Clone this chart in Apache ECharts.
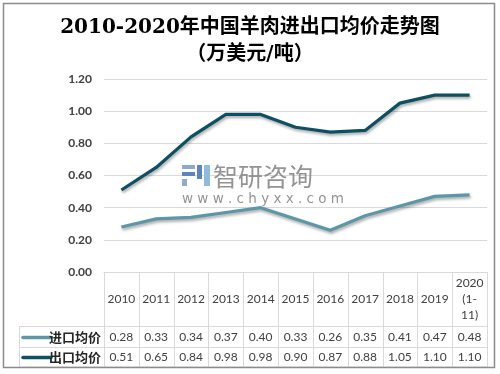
<!DOCTYPE html>
<html><head><meta charset="utf-8">
<script src="https://cdn.jsdelivr.net/npm/echarts@6/dist/echarts.min.js"></script>
<style>html,body{margin:0;padding:0;background:#fff}#c{width:500px;height:374px}</style>
</head><body><div id="c"></div>
<script>
var years = ['2010','2011','2012','2013','2014','2015','2016','2017','2018','2019','2020\n(1-\n11)'];
var importPrice = [0.28,0.33,0.34,0.37,0.40,0.33,0.26,0.35,0.41,0.47,0.48];
var exportPrice = [0.51,0.65,0.84,0.98,0.98,0.90,0.87,0.88,1.05,1.10,1.10];
var seriesNames = ['进口均价','出口均价'];
var seriesColors = ['#5C97A7','#0E4F64'];
var yTicks = [0,0.2,0.4,0.6,0.8,1.0,1.2];

var chart = echarts.init(document.getElementById('c'));
var font = 'Lato, "Noto Sans CJK SC", sans-serif';
var gridL = 104, gridR = 13, gridT = 79, gridB = 102;
var shadow = {shadowColor:'rgba(0,0,0,0.35)', shadowBlur:3, shadowOffsetX:1, shadowOffsetY:2};
chart.setOption({
  animation:false,
  backgroundColor:'#fff',
  grid:{left:gridL,right:gridR,top:gridT,bottom:gridB,containLabel:false},
  xAxis:{type:'category',data:years,boundaryGap:true,
    axisLine:{show:true,lineStyle:{color:'#D9D9D9'}},axisTick:{show:false},axisLabel:{show:false},splitLine:{show:false}},
  yAxis:{type:'value',min:yTicks[0],max:yTicks[yTicks.length-1],interval:0.2,
    axisLine:{show:false},axisTick:{show:false},
    axisLabel:{formatter:function(v){return v.toFixed(2);},color:'#404040',fontSize:12,fontWeight:'bold',fontFamily:font,margin:12},
    splitLine:{lineStyle:{color:'#D9D9D9'}}},
  series:[
    {name:seriesNames[0],type:'line',data:importPrice,symbol:'none',smooth:false,
      lineStyle:Object.assign({color:seriesColors[0],width:3.2},shadow)},
    {name:seriesNames[1],type:'line',data:exportPrice,symbol:'none',smooth:false,
      lineStyle:Object.assign({color:seriesColors[1],width:3.2},shadow)}
  ]
});

var g = [];
var lineC = '#D9D9D9';
var x0 = chart.convertToPixel({xAxisIndex:0},0);
var x1 = chart.convertToPixel({xAxisIndex:0},1);
var cw = x1 - x0;
var left = x0 - cw/2, right = left + cw*years.length;
var yAxis0 = chart.convertToPixel({yAxisIndex:0},0);
var rowTop1 = 326, rowTop2 = 347, tableBottom = 367, legendLeft = 19;
[rowTop1,rowTop2].forEach(function(y){
  g.push({type:'line',shape:{x1:legendLeft,y1:y+0.5,x2:right,y2:y+0.5},style:{stroke:lineC,lineWidth:1}});
});
g.push({type:'line',shape:{x1:legendLeft,y1:tableBottom,x2:right,y2:tableBottom},style:{stroke:lineC,lineWidth:1}});
for (var i=0;i<=years.length;i++){
  var xx = Math.round(left + cw*i)+0.5;
  g.push({type:'line',shape:{x1:xx,y1:yAxis0,x2:xx,y2:tableBottom},style:{stroke:lineC,lineWidth:1}});
}
g.push({type:'line',shape:{x1:legendLeft+0.5,y1:rowTop1,x2:legendLeft+0.5,y2:tableBottom},style:{stroke:lineC,lineWidth:1}});
years.forEach(function(y,i){
  var cx = chart.convertToPixel({xAxisIndex:0},i);
  g.push({type:'text',x:cx,y:(yAxis0+rowTop1)/2,style:{text:y,textAlign:'center',textVerticalAlign:'middle',font:'12px '+font,fill:'#404040',lineHeight:16}});
});
var rows = [importPrice, exportPrice];
var rowMid = [(rowTop1+rowTop2)/2+0.5, (rowTop2+tableBottom)/2];
rows.forEach(function(arr,r){
  arr.forEach(function(v,i){
    var cx = chart.convertToPixel({xAxisIndex:0},i);
    g.push({type:'text',x:cx,y:rowMid[r],style:{text:v.toFixed(2),textAlign:'center',textVerticalAlign:'middle',font:'12px '+font,fill:'#404040'}});
  });
  g.push({type:'line',shape:{x1:23,y1:rowMid[r]+0.5,x2:51,y2:rowMid[r]+0.5},style:{stroke:seriesColors[r],lineWidth:3.5,lineCap:'round'}});
  g.push({type:'text',x:101,y:rowMid[r],style:{text:seriesNames[r],textAlign:'right',textVerticalAlign:'middle',font:'bold 13px "Noto Sans CJK SC"',fill:'#262626'}});
});
g.push({type:'rect',shape:{x:3.5,y:3.5,width:491,height:364},style:{fill:'none',stroke:'#8C8C8C',lineWidth:1.5},z:100});
g.push({type:'text',x:250,y:28,style:{text:'2010-2020年中国羊肉进出口均价走势图',textAlign:'center',textVerticalAlign:'middle',font:'bold 20px "DejaVu Serif","Noto Sans CJK SC"',fill:'#000'}});
g.push({type:'text',x:250,y:55,style:{text:'（万美元/吨）',textAlign:'center',textVerticalAlign:'middle',font:'bold 20px "DejaVu Serif","Noto Sans CJK SC"',fill:'#000'}});
g.push({type:'rect',shape:{x:182,y:165,width:13,height:4},style:{fill:'#8FA9CF'}});
g.push({type:'rect',shape:{x:182,y:172,width:13,height:4},style:{fill:'#5C84C0'}});
g.push({type:'rect',shape:{x:182,y:179,width:5,height:7},style:{fill:'#8FA9CF'}});
g.push({type:'rect',shape:{x:197,y:165,width:5,height:14},style:{fill:'#5C84C0'}});
g.push({type:'rect',shape:{x:204,y:165,width:6,height:21},style:{fill:'#8FBBE0'}});
g.push({type:'text',x:213,y:176,style:{text:'智研咨询',textVerticalAlign:'middle',font:'25px "Noto Sans CJK SC"',fill:'rgba(120,120,120,0.8)'}});
g.push({type:'text',x:182,y:199,style:{text:'w w w . c h y x x . c o m',textVerticalAlign:'middle',font:'13.5px "DejaVu Sans"',fill:'rgba(120,120,120,0.8)'}});
chart.setOption({graphic:g});
</script></body></html>
